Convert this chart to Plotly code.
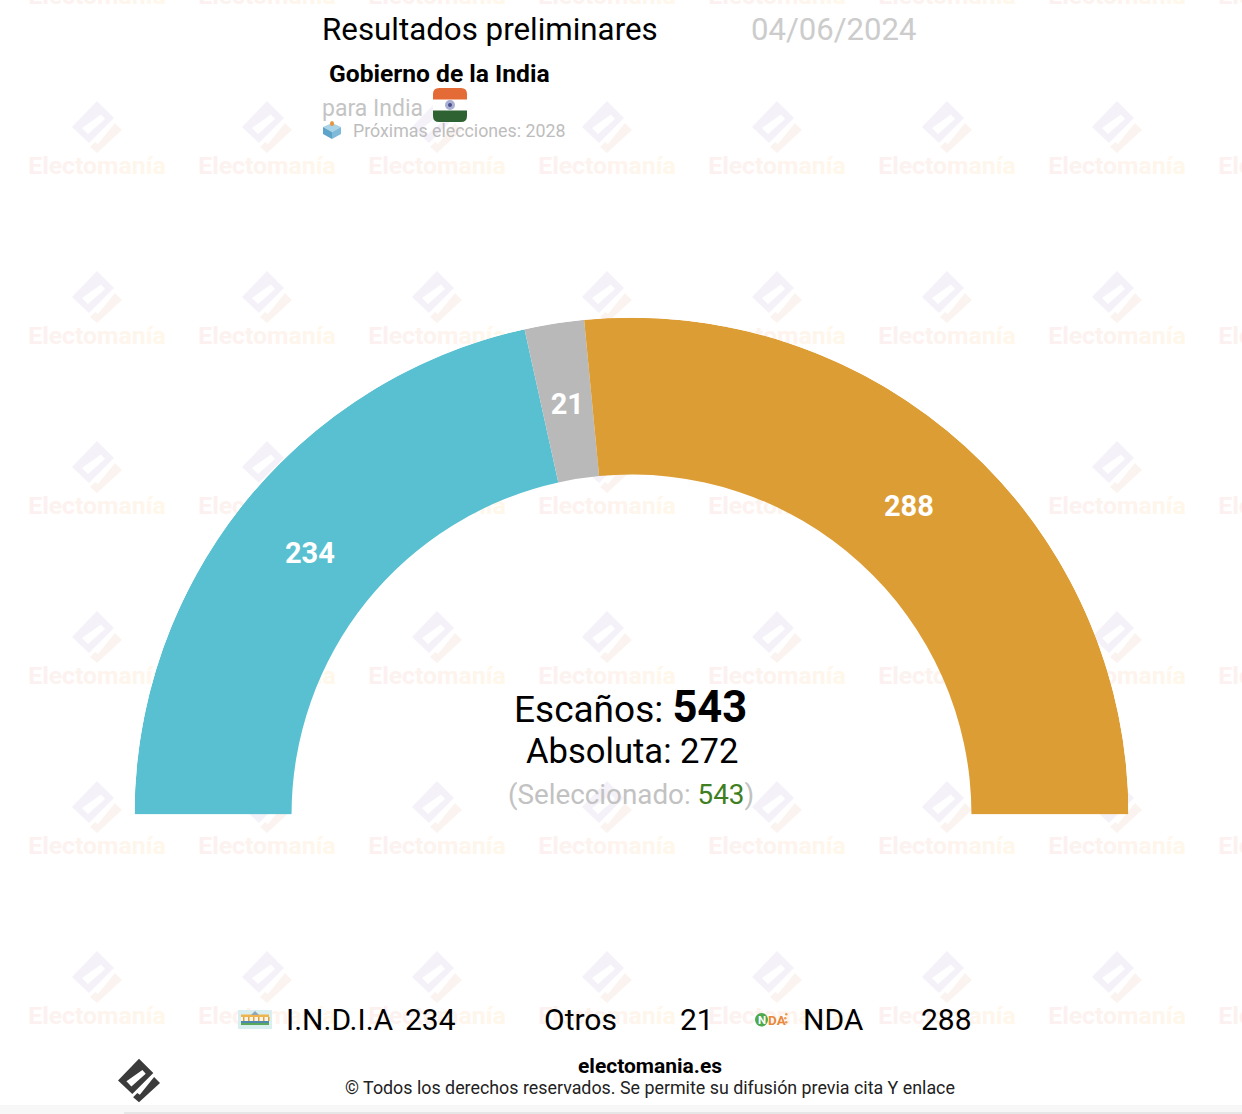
import plotly.graph_objects as go

# ---- data ----
parties = ["I.N.D.I.A", "Otros", "NDA"]
seats = [234, 21, 288]
colors = ["#58c0d0", "#b9b9b9", "#dd9d35"]
total_seats = 543
majority = 272
selected = 543
title = "Resultados preliminares"
date = "04/06/2024"
subtitle = "Gobierno de la India"
country = "para India"
next_election = "Próximas elecciones: 2028"
site = "electomania.es"
rights = "© Todos los derechos reservados. Se permite su difusión previa cita Y enlace"
watermark = "Electomanía"

W, H = 1242, 1114
FONT = "Roboto"
HOLE = 0.684

# cumulative angular layout derived from the seats
thetas, widths, cum = [], [], 0
for s in seats:
    w = s / total_seats * 180
    thetas.append(cum + w / 2)
    widths.append(w)
    cum += w

fig = go.Figure()

# watermark text (cartesian layer sits under the polar layer)
wm_cols = ["#fcf1f0", "#fcf1f0", "#fcf2ef", "#fdf2ef", "#fdf3ee", "#fdf3ee", "#fef4ed", "#fef5ec", "#fef6ec", "#fff7eb", "#fff7ea"]
wm_text = "".join(f'<span style="color:{c}">{ch}</span>' for ch, c in zip(watermark, wm_cols))
wx, wy = [], []
for r in range(7):
    for c in range(8):
        wx.append(97 + 170 * c)
        wy.append(-2.5 + 170 * r)
fig.add_trace(go.Scatter(x=wx, y=wy, mode="text", text=[f"<b>{wm_text}</b>"] * len(wx),
                         textposition="middle center", hoverinfo="skip", showlegend=False,
                         textfont=dict(family=FONT, size=24.8, color="#fdf3ed")))

# gauge
fig.add_trace(go.Barpolar(theta=thetas, width=widths, r=[1 - HOLE] * 3, base=[HOLE] * 3,
                          marker=dict(color=colors, line=dict(width=0)),
                          text=parties, hovertemplate="%{text}<extra></extra>", showlegend=False))
fig.add_trace(go.Scatterpolar(theta=thetas, r=[0.83] * 3, mode="text",
                              text=[f"<b>{s}</b>" for s in seats], hoverinfo="skip", showlegend=False,
                              textfont=dict(family=FONT, size=29, color="white")))


def logo_paths(cx, cy, k):
    def P(pts):
        return "M" + "L".join(f"{cx + k * a:.1f},{cy + k * b:.1f}" for a, b in pts) + "Z"
    body = P([(0, -26), (17, -9), (-8, 16), (-25, 0)])
    slot = P([(-15, 1), (4, -12.5), (8, -8), (-9, 7)])
    hook = P([(18, -4), (25, 3), (0, 26), (-7, 20), (-2, 15), (1, 17)])
    return body + slot, hook


shapes = []
for r in range(6):
    for c in range(8):
        b, h = logo_paths(97 + 170 * c, 127 + 170 * r, 1)
        shapes.append(dict(type="path", path=b, fillcolor="#f5f1f9", line_width=0, layer="below", xref="x", yref="y"))
        shapes.append(dict(type="path", path=h, fillcolor="#fbf3f0", line_width=0, layer="below", xref="x", yref="y"))


def above(**kw):
    d = dict(xref="x", yref="y", layer="above", line_width=0)
    d.update(kw)
    shapes.append(d)


# footer logo and strip
b, h = logo_paths(139, 1080.5, 0.84)
above(type="path", path=b, fillcolor="#3b3b3b")
above(type="path", path=h, fillcolor="#3b3b3b")
above(type="rect", x0=0, x1=W, y0=1105, y1=1114, fillcolor="#f7f7f7")
above(type="rect", x0=124, x1=W, y0=1112, y1=1114, fillcolor="#e6e6e6")

# India flag
above(type="path", path="M433,100V94Q433,88 439,88H461Q467,88 467,94V100Z", fillcolor="#e46a36")
above(type="rect", x0=433, x1=467, y0=99.5, y1=110.5, fillcolor="#ffffff")
above(type="path", path="M433,110.5H467V116Q467,122 461,122H439Q433,122 433,116Z", fillcolor="#2f6233")
above(type="circle", x0=445, x1=455, y0=100, y1=110, fillcolor="#aab0d4", line=dict(color="#4a4f8c", width=1))
above(type="circle", x0=448, x1=452, y0=103, y1=107, fillcolor="#4a4f8c")

# ballot box icon
above(type="path", path="M323,127L332,123L341,127L332,132Z", fillcolor="#a9d3e6")
above(type="path", path="M323,127L332,132V139L323,134Z", fillcolor="#5ea3c9")
above(type="path", path="M341,127L332,132V139L341,134Z", fillcolor="#7fbad8")
above(type="circle", x0=330, x1=334, y0=121, y1=126, fillcolor="#e8943c")

# I.N.D.I.A legend icon
above(type="rect", x0=238, x1=272, y0=1010, y1=1029, fillcolor="#d9eeee")
above(type="rect", x0=241, x1=269, y0=1017, y1=1021, fillcolor="#fbf6e8")
above(type="rect", x0=241, x1=269, y0=1014.5, y1=1017, fillcolor="#eeb44e")
for px in range(243, 269, 5):
    above(type="rect", x0=px, x1=px + 1.5, y0=1017, y1=1021, fillcolor="#e0a040")
above(type="rect", x0=241, x1=269, y0=1021, y1=1023, fillcolor="#4f86b0")
above(type="rect", x0=241, x1=269, y0=1023, y1=1025, fillcolor="#5aa85a")
above(type="path", path="M251,1015L255,1011L259,1015Z", fillcolor="#8fa6b5")

# NDA legend icon
above(type="circle", x0=755, x1=768, y0=1013, y1=1026.5, fillcolor="#4fa94d")
above(type="circle", x0=785, x1=787.5, y0=1013, y1=1015.5, fillcolor="#ee9a4a")
above(type="circle", x0=784, x1=786.5, y0=1017, y1=1019.5, fillcolor="#ee9a4a")
above(type="circle", x0=785, x1=787.5, y0=1021, y1=1023.5, fillcolor="#ee9a4a")


def txt(x, y, s, size, color="#000000", anchor="left"):
    return dict(x=x, y=y, text=s, xref="x", yref="y", showarrow=False, xanchor=anchor, yanchor="middle",
                font=dict(family=FONT, size=size, color=color), align=anchor)


ann = [
    txt(320, 29.5, title, 31.3),
    txt(749, 29.5, date, 31.1, "#cccccc"),
    txt(327, 73, f"<b>{subtitle}</b>", 24.6),
    txt(320, 108.5, country, 23, "#c4c4c4"),
    txt(351, 130, next_election, 17.8, "#bdbdbd"),
    txt(630.5, 707, f'Escaños: <b><span style="font-size:43.5px">{total_seats}</span></b>', 37, anchor="center"),
    txt(632, 751, f"Absoluta: {majority}", 34.6, anchor="center"),
    txt(631, 794.5, f'(Seleccionado: <span style="color:#3f7f22">{selected}</span>)', 27.8, "#c2c2c2", anchor="center"),
    txt(284, 1019.5, parties[0], 30),
    txt(403, 1019.5, str(seats[0]), 30),
    txt(542, 1019.5, parties[1], 30),
    txt(678, 1019.5, str(seats[1]), 30),
    txt(801, 1019.5, parties[2], 30),
    txt(919, 1019.5, str(seats[2]), 30),
    txt(761.5, 1020, "<b>N</b>", 11.5, "#ffffff", anchor="center"),
    txt(766, 1019.5, "<b>DA</b>", 13.5, "#e8893a"),
    txt(649.5, 1066, f"<b>{site}</b>", 21, anchor="center"),
    txt(650, 1087.5, rights, 17.85, "#222222", anchor="center"),
]

fig.update_layout(
    width=W, height=H, margin=dict(l=0, r=0, t=0, b=0), autosize=False,
    paper_bgcolor="white", plot_bgcolor="rgba(0,0,0,0)", showlegend=False,
    xaxis=dict(range=[0, W], visible=False, fixedrange=True, domain=[0, 1]),
    yaxis=dict(range=[H, 0], visible=False, fixedrange=True, domain=[0, 1]),
    polar=dict(
        domain=dict(x=[134.5 / W, 1128.5 / W], y=[(H - 814.5) / H, (H - 317.5) / H]),
        sector=[0, 180], bgcolor="rgba(0,0,0,0)", barmode="overlay",
        angularaxis=dict(visible=False, rotation=180, direction="clockwise", thetaunit="degrees"),
        radialaxis=dict(visible=False, range=[0, 1]),
    ),
    shapes=shapes, annotations=ann,
)

fig.write_html("out.html", config={"displayModeBar": False},
               post_script="document.body.style.margin='0';window.dispatchEvent(new Event('resize'));")
